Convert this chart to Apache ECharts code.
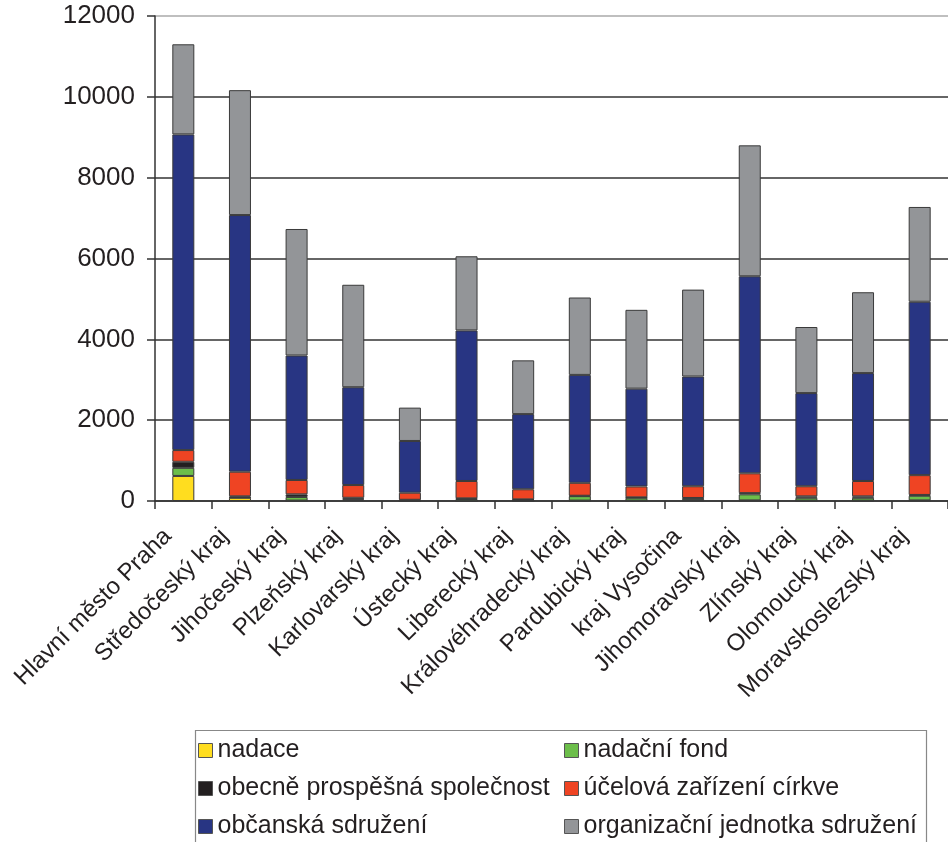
<!DOCTYPE html>
<html>
<head>
<meta charset="utf-8">
<script src="https://cdn.jsdelivr.net/npm/echarts@6/dist/echarts.min.js"></script>
<style>
html,body{margin:0;padding:0;background:#fff;}
#c{width:948px;height:842px;}
</style>
</head>
<body>
<div id="c"></div>
<script>
const categories = ['Hlavní město Praha','Středočeský kraj','Jihočeský kraj','Plzeňský kraj','Karlovarský kraj','Ústecký kraj','Liberecký kraj','Královéhradecký kraj','Pardubický kraj','kraj Vysočina','Jihomoravský kraj','Zlínský kraj','Olomoucký kraj','Moravskoslezský kraj'];
const seriesNames = ['nadace','nadační fond','obecně prospěšná společnost','účelová zařízení církve','občanská sdružení','organizační jednotka sdružení'];
const nadace      = [620, 80, 10, 30, 5, 5, 5, 10, 10, 20, 15, 10, 10, 15];
const nadacniFond = [200, 10, 90, 25, 15, 45, 25, 110, 70, 40, 150, 70, 70, 115];
const ops         = [150, 25, 65, 25, 10, 15, 10, 10, 10, 15, 30, 35, 35, 20];
const ucelova     = [290, 610, 355, 315, 175, 430, 250, 320, 270, 290, 490, 250, 380, 490];
const obcanska    = [7810, 6350, 3080, 2420, 1280, 3725, 1860, 2670, 2420, 2715, 4875, 2305, 2670, 4290];
const orgJednotka = [2230, 3090, 3130, 2535, 825, 1835, 1330, 1915, 1950, 2150, 3240, 1635, 2000, 2345];
const yTicks = [0, 2000, 4000, 6000, 8000, 10000, 12000];

const colors = ['#FFDD1F','#6CBE4A','#231F20','#EF4423','#283583','#939598'];
const dataSets = [nadace, nadacniFond, ops, ucelova, obcanska, orgJednotka];
const font = 'Liberation Sans, Arial, sans-serif';

const legendCommon = {
  orient: 'vertical', top: 733, height: 120, itemGap: 13,
  itemWidth: 14, itemHeight: 14, icon: 'rect',
  textStyle: {fontSize: 25, color: '#231F20', fontFamily: font},
  itemStyle: {borderColor: '#555', borderWidth: 1}
};

const chart = echarts.init(document.getElementById('c'));
chart.setOption({
  animation: false,
  backgroundColor: '#fff',
  grid: {left: 155, top: 16, right: -8, bottom: 341, containLabel: false},
  xAxis: {
    type: 'category',
    data: categories,
    boundaryGap: true,
    axisLine: {lineStyle: {color: '#333', width: 1.5}},
    axisTick: {show: true, alignWithLabel: false, length: 8, lineStyle: {color: '#333', width: 1.5}},
    axisLabel: {rotate: 45, interval: 0, margin: 16, padding: [0, 22, 0, 0], color: '#231F20', fontSize: 24, fontFamily: font}
  },
  yAxis: {
    type: 'value',
    min: yTicks[0],
    max: yTicks[yTicks.length - 1],
    interval: 2000,
    axisLine: {show: true, lineStyle: {color: '#333', width: 1.5}},
    axisTick: {show: true, inside: false, length: 8, lineStyle: {color: '#333', width: 1.5}},
    axisLabel: {margin: 20, color: '#231F20', fontSize: 26, fontFamily: font, formatter: v => String(v)},
    splitLine: {show: true, lineStyle: {color: ['#333','#333','#333','#333','#333','#333','#aaa'], width: 1.5}}
  },
  legend: [
    Object.assign({}, legendCommon, {data: [seriesNames[0], seriesNames[2], seriesNames[4]], left: 193}),
    Object.assign({}, legendCommon, {data: [seriesNames[1], seriesNames[3], seriesNames[5]], left: 559})
  ],
  graphic: [{
    type: 'rect', left: 193, top: 728,
    shape: {width: 731, height: 140},
    style: {fill: 'none', stroke: '#888', lineWidth: 1.2},
    silent: true
  }],
  series: seriesNames.map((name, i) => ({
    name: name,
    type: 'bar',
    stack: 'total',
    barWidth: 22,
    data: dataSets[i],
    itemStyle: {color: colors[i], borderColor: '#3a3a3a', borderWidth: 1}
  }))
});
</script>
</body>
</html>
